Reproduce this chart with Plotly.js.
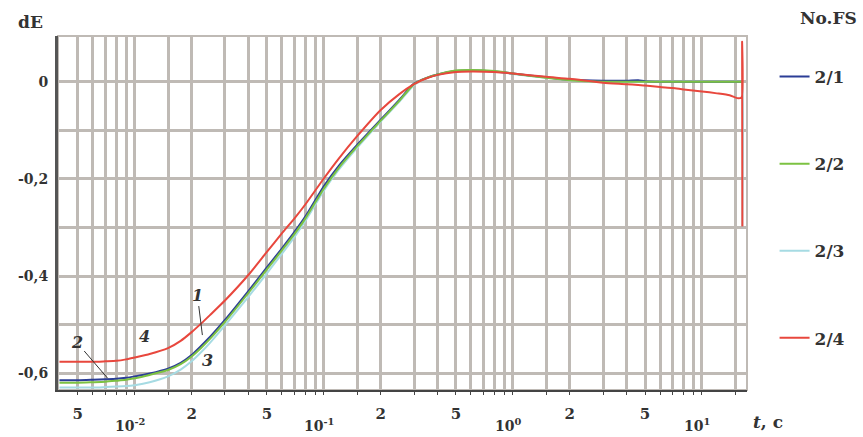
<!DOCTYPE html>
<html>
<head>
<meta charset="utf-8">
<script src="https://cdn.plot.ly/plotly-3.0.1.min.js"></script>
<style>html,body{margin:0;padding:0;background:#fff;}#chart{width:863px;height:437px;}</style>
</head>
<body>
<div id="chart"></div>
<script>
// ---- data (time t in seconds, dE) ----
const T_MAIN = [0.004,0.005,0.006,0.007,0.008,0.009,0.01,0.012,0.015,0.0175,0.02,0.0225,0.025,0.03,0.04,0.05,0.06,0.07,0.08,0.1,0.12,0.15,0.2,0.25,0.3,0.35,0.4,0.5,0.6,0.8,1,1.5,2,3,4,4.6,5,6,7,8,10,12,14,15.5,16.2];
const DE_21 = [-0.614,-0.614,-0.613,-0.612,-0.611,-0.609,-0.606,-0.600,-0.590,-0.578,-0.562,-0.543,-0.525,-0.490,-0.430,-0.382,-0.343,-0.309,-0.277,-0.215,-0.173,-0.130,-0.078,-0.038,-0.004,0.008,0.015,0.022,0.023,0.021,0.017,0.009,0.004,0.002,0.002,0.003,0.001,0.000,0.000,0.000,0.000,0.000,0.000,0.000,0.000];
const DE_22 = [-0.619,-0.619,-0.618,-0.617,-0.615,-0.613,-0.610,-0.603,-0.593,-0.581,-0.565,-0.547,-0.529,-0.494,-0.434,-0.386,-0.347,-0.313,-0.281,-0.220,-0.177,-0.133,-0.080,-0.040,-0.005,0.008,0.015,0.023,0.024,0.022,0.017,0.008,0.003,0.000,0.000,0.000,0.000,0.000,0.000,0.000,0.000,0.000,0.000,0.000,0.000];
const DE_23 = [-0.629,-0.629,-0.629,-0.628,-0.627,-0.626,-0.624,-0.618,-0.606,-0.592,-0.575,-0.556,-0.537,-0.501,-0.442,-0.394,-0.354,-0.319,-0.286,-0.224,-0.181,-0.136,-0.082,-0.042,-0.007,0.007,0.014,0.022,0.023,0.021,0.016,0.008,0.003,0.000,0.000,0.000,0.000,0.000,0.000,0.000,0.000,0.000,0.000,0.000,0.000];
const DE_24 = [-0.576,-0.576,-0.576,-0.575,-0.574,-0.571,-0.567,-0.560,-0.548,-0.533,-0.515,-0.497,-0.480,-0.450,-0.397,-0.350,-0.312,-0.281,-0.252,-0.199,-0.158,-0.112,-0.058,-0.026,-0.005,0.007,0.014,0.020,0.021,0.020,0.017,0.010,0.006,-0.002,-0.005,-0.007,-0.008,-0.011,-0.013,-0.016,-0.020,-0.024,-0.028,-0.034,-0.032];
// end of record (spike at the last sample)
const T_END = [16.3, 16.35];
const DE_21_END = [0.000, 0.000];
const DE_22_END = [0.000, 0.000];
const DE_23_END = [0.000, -0.298];
const DE_24_END = [0.082, -0.298];

const SERIES_NAMES = ["2/1","2/2","2/3","2/4"];
const SERIES_COLORS = ["#2b3d96","#7cc242","#a6dbe3","#e8473d"];

// ---- axes ticks ----
const X_GRID = [0.005,0.006,0.007,0.008,0.009,0.01,0.015,0.02,0.03,0.04,0.05,0.06,0.07,0.08,0.09,0.1,0.15,0.2,0.3,0.4,0.5,0.6,0.7,0.8,0.9,1,1.5,2,3,4,5,6,7,8,9,10,15];
const X_LABELS = {0.005:"5",0.02:"2",0.05:"5",0.2:"2",0.5:"5",2:"2",5:"5"};
const DECADES = [0.01,0.1,1,10];
const DECADE_LABELS = ["10<sup>-2</sup>","10<sup>-1</sup>","10<sup>0</sup>","10<sup>1</sup>"];
const Y_TICKS = [-0.6,-0.5,-0.4,-0.3,-0.2,-0.1,0];
const Y_LABELS = ["-0,6","","-0,4","","-0,2","","0"];

// curve number labels: [label, t, dE, ax, ay]
const CURVE_LABELS = [["1",0.0228,-0.521,-5,-40],["2",0.0072,-0.610,-31,-36],["3",0.0242,-0.573,0,0],["4",0.0113,-0.523,0,0]];

const FONT = "DejaVu Serif, Liberation Serif, serif";
const series = [DE_21, DE_22, DE_23, DE_24];
const ends = [DE_21_END, DE_22_END, DE_23_END, DE_24_END];
const drawOrder = [2,0,1,3];
const traces = drawOrder.map(i => ({
  type:"scatter", mode:"lines",
  x: T_MAIN.concat(T_END), y: series[i].concat(ends[i]),
  name: "<b>"+SERIES_NAMES[i]+"</b>", legendgroup: "g"+i, legendrank: i+1,
  line:{color:SERIES_COLORS[i], width:2, shape:"spline", smoothing:0.6}
}));

const annotations = [];
DECADES.forEach((d,k) => annotations.push({
  xref:"x", yref:"paper", x:Math.log10(d), y:-0.1, xshift:-5, yanchor:"middle", xanchor:"center",
  text:"<b>"+DECADE_LABELS[k]+"</b>", showarrow:false, font:{family:FONT, size:14, color:"#333"}
}));
CURVE_LABELS.forEach(c => {
  const a = {xref:"x", yref:"y", x:Math.log10(c[1]), y:c[2], text:"<b><i>"+c[0]+"</i></b>",
    font:{family:FONT, size:16, color:"#333"}};
  if (c[3]!==0 || c[4]!==0) { Object.assign(a,{showarrow:true, arrowhead:0, arrowwidth:1, arrowcolor:"#333", ax:c[3], ay:c[4], standoff:0}); }
  else a.showarrow=false;
  annotations.push(a);
});
annotations.push({xref:"paper", yref:"paper", x:-0.04, xanchor:"center", y:1.04, yanchor:"middle", text:"<b>dE</b>", showarrow:false, font:{family:FONT,size:17,color:"#333"}});
annotations.push({xref:"paper", yref:"paper", x:1.03, xanchor:"center", y:-0.09, yanchor:"middle", text:"<b><i>t</i>, c</b>", showarrow:false, font:{family:FONT,size:17,color:"#333"}});
annotations.push({xref:"paper", yref:"paper", x:1.163, xanchor:"right", y:1.051, yanchor:"middle", text:"<b>No.FS</b>", showarrow:false, font:{family:FONT,size:17,color:"#333"}});

const layout = {
  width:863, height:437,
  margin:{l:58, r:113, t:36, b:47},
  paper_bgcolor:"#fff", plot_bgcolor:"#fff",
  font:{family:FONT, size:14, color:"#333"},
  showlegend:true,
  legend:{x:1.04, xanchor:"left", y:0.935, yanchor:"top", traceorder:"grouped", tracegroupgap:62,
    font:{family:FONT, size:17, color:"#333"}, bgcolor:"rgba(0,0,0,0)", itemwidth:30},
  xaxis:{type:"log", range:[Math.log10(0.00393), Math.log10(17.3)],
    tickmode:"array", tickvals:X_GRID, ticktext:X_GRID.map(v => X_LABELS[v] ? "<b>"+X_LABELS[v]+"</b>" : " "),
    showgrid:true, gridcolor:"#bfbab5", gridwidth:3,
    showline:true, linecolor:"#444", linewidth:2, ticks:"outside", ticklen:3, tickcolor:"#444",
    ticklabelstandoff:6, tickfont:{family:FONT, size:15, color:"#333"}, zeroline:false},
  yaxis:{range:[-0.634, 0.094], tickmode:"array", tickvals:Y_TICKS, ticktext:Y_LABELS.map(s => s ? "<b>"+s+"</b>" : " "),
    showgrid:true, gridcolor:"#bfbab5", gridwidth:3,
    showline:true, linecolor:"#555", linewidth:3, ticks:"", ticklabelstandoff:4,
    tickfont:{family:FONT, size:14, color:"#333"}, zeroline:false},
  shapes:[{type:"rect", xref:"paper", yref:"paper", x0:0, x1:1, y0:0, y1:1, line:{color:"#bfbab5", width:2}, layer:"below"}],
  annotations:annotations
};
Plotly.newPlot("chart", traces, layout, {displayModeBar:false, staticPlot:true});
</script>
</body>
</html>
